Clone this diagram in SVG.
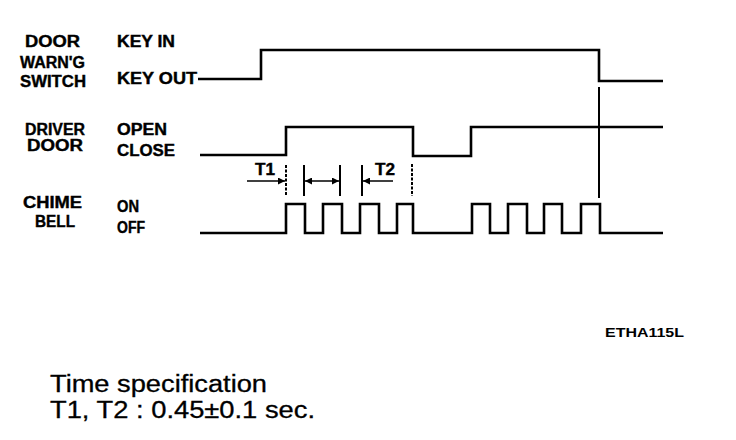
<svg xmlns="http://www.w3.org/2000/svg" width="736" height="440" viewBox="0 0 736 440">
<defs>
<style>
.lbl{font-family:"Liberation Sans",Arial,sans-serif;font-weight:bold;font-size:16px;fill:#000;stroke:#000;stroke-width:0.4}
.wave{fill:none;stroke:#000;stroke-width:2.6;stroke-linejoin:miter}
.tick{stroke:#000;stroke-width:2}
.dash{stroke:#000;stroke-width:2;stroke-dasharray:3 1.5}
.dim{stroke:#000;stroke-width:1.5}
.spec{font-family:"Liberation Sans",Arial,sans-serif;font-size:23px;fill:#000;stroke:#000;stroke-width:0.3}
</style>
<marker id="ah" viewBox="0 0 10 10" refX="10" refY="5" markerWidth="9" markerHeight="7" markerUnits="userSpaceOnUse" orient="auto">
<path d="M0,0 L10,5 L0,10 z" fill="#000"/>
</marker>
</defs>
<rect width="736" height="440" fill="#fff"/>
<g id="labels">
<text class="lbl" x="25" y="47" textLength="55" lengthAdjust="spacingAndGlyphs">DOOR</text>
<text class="lbl" x="20" y="68" textLength="65" lengthAdjust="spacingAndGlyphs">WARN'G</text>
<text class="lbl" x="20" y="87" textLength="66" lengthAdjust="spacingAndGlyphs">SWITCH</text>
<text class="lbl" x="117" y="47" textLength="58" lengthAdjust="spacingAndGlyphs">KEY IN</text>
<text class="lbl" x="117" y="84" textLength="80" lengthAdjust="spacingAndGlyphs">KEY OUT</text>
<text class="lbl" x="25" y="135" textLength="60" lengthAdjust="spacingAndGlyphs">DRIVER</text>
<text class="lbl" x="27" y="151" textLength="56" lengthAdjust="spacingAndGlyphs">DOOR</text>
<text class="lbl" x="117" y="135" textLength="50" lengthAdjust="spacingAndGlyphs">OPEN</text>
<text class="lbl" x="117" y="156" textLength="58" lengthAdjust="spacingAndGlyphs">CLOSE</text>
<text class="lbl" x="23" y="208" textLength="59" lengthAdjust="spacingAndGlyphs">CHIME</text>
<text class="lbl" x="35" y="227" textLength="40" lengthAdjust="spacingAndGlyphs">BELL</text>
<text class="lbl" x="117" y="212" textLength="22" lengthAdjust="spacingAndGlyphs">ON</text>
<text class="lbl" x="117" y="233" textLength="28" lengthAdjust="spacingAndGlyphs">OFF</text>
</g>
<g id="switch-wave">
<polyline class="wave" points="198,79 261,79 261,50 599,50 599,81 663,81"/>
</g>
<g id="door-wave">
<polyline class="wave" points="200,155 286,155 286,127 413,127 413,156 471,156 471,127 663,127"/>
</g>
<g id="chime-wave">
<polyline class="wave" points="200,233 286,233 286,204 305,204 305,233 323,233 323,204 342,204 342,233 360,233 360,204 379,204 379,233 397,233 397,204 413,204 413,233 472,233 472,204 490,204 490,233 508,233 508,204 527,204 527,233 544,233 544,204 562,204 562,233 581,233 581,204 600,204 600,233 663,233"/>
</g>
<g id="connectors">
<line class="tick" x1="599" y1="87" x2="599" y2="198" stroke-width="2.6"/>
<line class="dash" x1="286" y1="165" x2="286" y2="196"/>
<line class="tick" x1="304" y1="165" x2="304" y2="196"/>
<line class="tick" x1="340" y1="165" x2="340" y2="196"/>
<line class="tick" x1="362" y1="165" x2="362" y2="196"/>
<line class="dash" x1="412" y1="164" x2="412" y2="196"/>
<line class="dim" x1="247" y1="181" x2="285" y2="181" marker-end="url(#ah)"/>
<line class="dim" x1="322" y1="181" x2="305" y2="181" marker-end="url(#ah)"/>
<line class="dim" x1="322" y1="181" x2="339" y2="181" marker-end="url(#ah)"/>
<line class="dim" x1="393" y1="181" x2="363" y2="181" marker-end="url(#ah)"/>
</g>
<g id="dim-labels">
<text class="lbl" x="255" y="175" textLength="20" lengthAdjust="spacingAndGlyphs">T1</text>
<text class="lbl" x="375" y="175" textLength="20" lengthAdjust="spacingAndGlyphs">T2</text>
</g>
<text x="605" y="337" font-family="'Liberation Sans',Arial,sans-serif" font-weight="bold" font-size="12" textLength="79" lengthAdjust="spacingAndGlyphs">ETHA115L</text>
<g id="spec">
<text class="spec" x="50" y="392" textLength="217" lengthAdjust="spacingAndGlyphs">Time specification</text>
<text class="spec" x="50" y="418" textLength="265" lengthAdjust="spacingAndGlyphs">T1, T2 : 0.45±0.1 sec.</text>
</g>
</svg>
